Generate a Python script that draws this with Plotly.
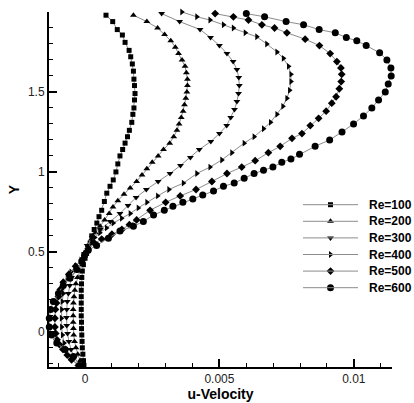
import plotly.graph_objects as go

# Streamwise velocity profiles u(Y) for several Reynolds numbers
re100_y = [1.98, 1.94, 1.89, 1.856, 1.81, 1.76, 1.72, 1.675, 1.63, 1.58, 1.54, 1.49, 1.45, 1.40,
           1.36, 1.31, 1.26, 1.22, 1.18, 1.14, 1.10, 1.05, 1.00, 0.95, 0.91, 0.867, 0.815, 0.76,
           0.72, 0.68, 0.64, 0.60, 0.555, 0.52, 0.49, 0.46, 0.42, 0.38, 0.34, 0.30, 0.26, 0.22,
           0.18, 0.14, 0.10, 0.06, 0.02, -0.02, -0.06, -0.10, -0.14, -0.18, -0.21]
re100_u = [0.00078, 0.00103, 0.00120, 0.00139, 0.00149, 0.00164, 0.00170, 0.00176, 0.00180,
           0.00182, 0.00184, 0.00186, 0.00184, 0.00182, 0.00178, 0.00174, 0.00165, 0.00158,
           0.00149, 0.00140, 0.00130, 0.00122, 0.00115, 0.00105, 0.00093, 0.00081, 0.00072,
           0.00062, 0.00052, 0.00044, 0.00034, 0.00025, 0.00019, 0.00012, 0.00006, 0.0,
           -0.00006, -0.00010, -0.00012, -0.00013, -0.00014, -0.00014, -0.00014, -0.00014,
           -0.00014, -0.00013, -0.00013, -0.00012, -0.00011, -0.00010, -0.00008, -0.00006,
           -0.00004]

re200_y = [1.98, 1.94, 1.90, 1.86, 1.82, 1.78, 1.74, 1.70, 1.66, 1.62, 1.58, 1.54, 1.50, 1.46,
           1.42, 1.38, 1.34, 1.30, 1.26, 1.22, 1.18, 1.14, 1.10, 1.06, 1.02, 0.98, 0.94, 0.90,
           0.86, 0.82, 0.78, 0.74, 0.70, 0.66, 0.62, 0.58, 0.54, 0.50, 0.46, 0.42, 0.38, 0.34,
           0.30, 0.26, 0.22, 0.18, 0.14, 0.10, 0.06, 0.02, -0.02, -0.06, -0.10, -0.14, -0.18,
           -0.21]
re200_u = [0.00180, 0.00230, 0.00270, 0.00296, 0.00319, 0.00336, 0.00348, 0.00361, 0.00372,
           0.00377, 0.00381, 0.00381, 0.00379, 0.00375, 0.00370, 0.00365, 0.00358, 0.00350,
           0.00342, 0.00330, 0.00315, 0.00292, 0.00272, 0.00250, 0.00230, 0.00212, 0.00192,
           0.00168, 0.00145, 0.00122, 0.00104, 0.00090, 0.00073, 0.00056, 0.00039, 0.00024,
           0.00012, 0.00003, -0.00004, -0.00012, -0.00020, -0.00028, -0.00034, -0.00038,
           -0.00041, -0.00043, -0.00044, -0.00044, -0.00044, -0.00043, -0.00042, -0.00039,
           -0.00034, -0.00027, -0.00018, -0.00010]

re300_y = [1.99, 1.94, 1.89, 1.84, 1.79, 1.74, 1.69, 1.64, 1.59, 1.54, 1.49, 1.44, 1.39, 1.34,
           1.29, 1.24, 1.19, 1.14, 1.09, 1.04, 0.99, 0.94, 0.89, 0.84, 0.79, 0.74, 0.69, 0.64,
           0.59, 0.54, 0.49, 0.44, 0.39, 0.34, 0.29, 0.24, 0.19, 0.14, 0.09, 0.04, -0.01, -0.06,
           -0.11, -0.16, -0.21]
re300_u = [0.00285, 0.00352, 0.00428, 0.00467, 0.00500, 0.00528, 0.00551, 0.00565, 0.00572,
           0.00574, 0.00571, 0.00565, 0.00556, 0.00542, 0.00527, 0.00500, 0.00468, 0.00425,
           0.00392, 0.00355, 0.00316, 0.00272, 0.00228, 0.00190, 0.00160, 0.00130, 0.00094,
           0.00057, 0.00027, 0.00008, -0.00002, -0.00012, -0.00030, -0.00050, -0.00057,
           -0.00062, -0.00066, -0.00068, -0.00069, -0.00068, -0.00065, -0.00060, -0.00052,
           -0.00040, -0.00020]

re400_y = [2.00, 1.97, 1.95, 1.92, 1.90, 1.87, 1.845, 1.80, 1.75, 1.71, 1.66, 1.61, 1.565, 1.51,
           1.46, 1.41, 1.36, 1.31, 1.27, 1.22, 1.18, 1.12, 1.075, 1.03, 0.99, 0.93, 0.89, 0.85,
           0.81, 0.775, 0.74, 0.71, 0.68, 0.65, 0.62, 0.59, 0.565, 0.53, 0.49, 0.45, 0.41, 0.375,
           0.34, 0.29, 0.24, 0.19, 0.14, 0.085, 0.03, -0.02, -0.07, -0.11, -0.155, -0.21]
re400_u = [0.00360, 0.00416, 0.00465, 0.00515, 0.00552, 0.00596, 0.00639, 0.00676, 0.00714,
           0.00738, 0.00757, 0.00766, 0.00766, 0.00761, 0.00751, 0.00736, 0.00714, 0.00690,
           0.00664, 0.00629, 0.00592, 0.00546, 0.00509, 0.00465, 0.00416, 0.00366, 0.00312,
           0.00270, 0.00230, 0.00198, 0.00168, 0.00136, 0.00105, 0.00080, 0.00055, 0.00036,
           0.00025, 0.00012, 0.0, -0.00015, -0.00035, -0.00052, -0.00066, -0.00076, -0.00081,
           -0.00085, -0.00087, -0.00088, -0.00087, -0.00084, -0.00078, -0.00069, -0.00056,
           -0.00025]

re500_y = [1.99, 1.97, 1.95, 1.92, 1.90, 1.87, 1.83, 1.79, 1.74, 1.69, 1.65, 1.61, 1.565, 1.52,
           1.47, 1.43, 1.38, 1.335, 1.29, 1.24, 1.21, 1.16, 1.12, 1.07, 1.03, 0.99, 0.94, 0.89,
           0.85, 0.81, 0.76, 0.70, 0.67, 0.64, 0.61, 0.58, 0.555, 0.52, 0.49, 0.45, 0.41, 0.36,
           0.31, 0.265, 0.22, 0.18, 0.14, 0.085, 0.03, -0.01, -0.05, -0.08, -0.11, -0.145,
           -0.175, -0.21]
re500_u = [0.00484, 0.00552, 0.00608, 0.00658, 0.00705, 0.00751, 0.00819, 0.00872, 0.00912,
           0.00937, 0.00952, 0.00955, 0.00953, 0.00946, 0.00934, 0.00918, 0.00897, 0.00869,
           0.00838, 0.00807, 0.00770, 0.00726, 0.00682, 0.00633, 0.00583, 0.00528, 0.00472,
           0.00413, 0.00354, 0.00300, 0.00242, 0.00192, 0.00165, 0.00137, 0.00100, 0.00062,
           0.00035, 0.00012, 0.0, -0.00010, -0.00035, -0.00060, -0.00081, -0.00092, -0.00099,
           -0.00106, -0.00110, -0.00112, -0.00112, -0.00109, -0.00104, -0.00095, -0.00082,
           -0.00066, -0.00050, -0.00025]

re600_y = [1.99, 1.97, 1.94, 1.92, 1.89, 1.87, 1.84, 1.82, 1.79, 1.745, 1.70, 1.65, 1.60, 1.55,
           1.50, 1.45, 1.40, 1.35, 1.30, 1.25, 1.20, 1.16, 1.11, 1.08, 1.06, 1.03, 1.01, 0.99,
           0.96, 0.93, 0.91, 0.88, 0.855, 0.83, 0.81, 0.785, 0.76, 0.73, 0.69, 0.66, 0.63,
           0.585, 0.54, 0.51, 0.475, 0.44, 0.39, 0.335, 0.29, 0.24, 0.19, 0.14, 0.085, 0.03,
           -0.02, -0.07, -0.11, -0.155, -0.21]
re600_u = [0.00600, 0.00668, 0.00748, 0.00813, 0.00871, 0.00931, 0.00972, 0.01011, 0.01046,
           0.01096, 0.01123, 0.01138, 0.01139, 0.01128, 0.01117, 0.01092, 0.01067, 0.01036,
           0.00999, 0.00956, 0.00910, 0.00856, 0.00798, 0.00766, 0.00732, 0.00699, 0.00664,
           0.00629, 0.00592, 0.00555, 0.00515, 0.00478, 0.00438, 0.00401, 0.00364, 0.00327,
           0.00295, 0.00255, 0.00217, 0.00180, 0.00130, 0.00087, 0.00043, 0.00012, -0.00002,
           -0.00012, -0.00031, -0.00056, -0.00081, -0.00099, -0.00118, -0.00128, -0.00133,
           -0.00133, -0.00124, -0.00105, -0.00074, -0.00043, -0.00019]

labels = ["Re=100", "Re=200", "Re=300", "Re=400", "Re=500", "Re=600"]
u_data = [re100_u, re200_u, re300_u, re400_u, re500_u, re600_u]
y_data = [re100_y, re200_y, re300_y, re400_y, re500_y, re600_y]
symbols = ["square", "triangle-up", "triangle-down", "triangle-right", "diamond", "circle"]
sizes = [5, 6, 6, 6, 6, 7]

FONT = "Liberation Sans, Arial, Helvetica, sans-serif"
LINE_GRAY = "#8c8c8c"

# figure geometry (pixels)
W, H = 414, 403
ML, MR, MT, MB = 49, 22, 12, 36
PW, PH = W - ML - MR, H - MT - MB


def to_paper(px, py):
    return (px - ML) / PW, (H - MB - py) / PH


fig = go.Figure()
for name, u, y, sym, size in zip(labels, u_data, y_data, symbols, sizes):
    fig.add_trace(go.Scatter(
        x=u, y=y, name=name, mode="lines+markers",
        line=dict(color=LINE_GRAY, width=1),
        marker=dict(symbol=sym, size=size, color="black", line=dict(width=0)),
        cliponaxis=False, showlegend=False,
    ))

# Key: line sample, symbol and bold label per series, stacked downwards
KEY_X0, KEY_X1, KEY_TEXT_X = 303, 358, 367
KEY_Y0, KEY_DY = 204.7, 16.6
key_mx, key_my = [], []
for i, name in enumerate(labels):
    py = KEY_Y0 + i * KEY_DY
    x0, yy = to_paper(KEY_X0, py)
    x1, _ = to_paper(KEY_X1, py)
    fig.add_shape(type="line", xref="paper", yref="paper", x0=x0, x1=x1, y0=yy, y1=yy,
                  line=dict(color=LINE_GRAY, width=1))
    mx, _ = to_paper((KEY_X0 + KEY_X1) / 2, py)
    key_mx.append(mx)
    key_my.append(yy)
    tx, _ = to_paper(KEY_TEXT_X, py)
    fig.add_annotation(x=tx, y=yy, xref="paper", yref="paper", text="<b>%s</b>" % name,
                       showarrow=False, xanchor="left", yanchor="middle",
                       font=dict(family=FONT, size=12, color="black"))

for i in range(len(labels)):
    fig.add_trace(go.Scatter(
        x=[key_mx[i]], y=[key_my[i]], xaxis="x2", yaxis="y2", mode="markers",
        marker=dict(symbol=symbols[i], size=sizes[i], color="black", line=dict(width=0)),
        showlegend=False, hoverinfo="skip", cliponaxis=False,
    ))

axis_common = dict(
    showline=True, linecolor="black", linewidth=2,
    ticks="inside", ticklen=8, tickwidth=1.5, tickcolor="black",
    showgrid=False, zeroline=False, mirror=False, automargin=False,
    tickfont=dict(family=FONT, size=12, color="#222"),
)

fig.update_layout(
    xaxis=dict(
        range=[-0.00134, 0.01142], tickvals=[0, 0.005, 0.01],
        ticktext=["0", "0.005", "0.01"],
        minor=dict(dtick=0.001, tick0=0, ticks="inside", ticklen=4, tickcolor="black", tickwidth=1),
        title=dict(text="<b>u-Velocity</b>", font=dict(family=FONT, size=14, color="black"),
                   standoff=3),
        **axis_common,
    ),
    yaxis=dict(
        range=[-0.22, 2.0], tickvals=[0, 0.5, 1, 1.5], ticktext=["0", "0.5", "1", "1.5"],
        minor=dict(dtick=0.1, tick0=0, ticks="inside", ticklen=4, tickcolor="black", tickwidth=1),
        title=dict(text="<b>Y</b>", font=dict(family=FONT, size=14, color="black"), standoff=5),
        **axis_common,
    ),
    xaxis2=dict(range=[0, 1], overlaying="x", visible=False, fixedrange=True),
    yaxis2=dict(range=[0, 1], overlaying="y", visible=False, fixedrange=True),
    width=W, height=H,
    margin=dict(l=ML, r=MR, t=MT, b=MB),
    paper_bgcolor="white", plot_bgcolor="white",
    showlegend=False,
)

fig.write_html("out.html")
